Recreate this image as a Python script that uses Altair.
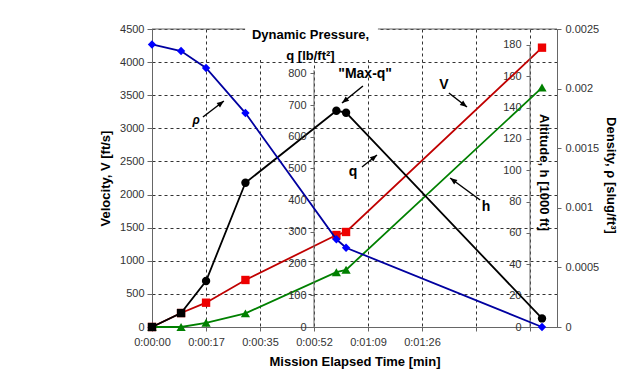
import math
import altair as alt
import pandas as pd

# ---------------- data ----------------
time_s = [0, 9.3, 17.3, 29.9, 59.0, 62.1, 124.8]          # mission elapsed time [s]
velocity = [0, 211, 367, 710, 1389, 1435, 4218]           # V [ft/s]
altitude = [0, 0, 2.7, 8.7, 35.0, 36.5, 152.8]            # h [1000 ft]
dyn_pressure = [0, 44, 145, 455, 682, 676, 27]            # q [lb/ft^2]
q_marker = ["square", "square", "circle", "circle", "circle", "circle", "circle"]
density = [0.00237, 0.002315, 0.002173, 0.001795, 0.000736, 0.000665, 0.0]  # rho

x_ticks = [0, 17.28, 34.56, 51.84, 69.12, 86.4, 103.68, 120.96]
x_labels = ["0:00:00", "0:00:17", "0:00:35", "0:00:52", "0:01:09", "0:01:26", "", ""]
v_ticks = [0, 500, 1000, 1500, 2000, 2500, 3000, 3500, 4000, 4500]
q_ticks = [0, 100, 200, 300, 400, 500, 600, 700, 800]
h_ticks = [0, 20, 40, 60, 80, 100, 120, 140, 160, 180]
rho_ticks = [0, 0.0005, 0.001, 0.0015, 0.002, 0.0025]

# annotations (in time / velocity units)
ann_text = ["ρ", '"Max-q"', "V", "q", "h"]
ann_t = [14.1, 68.2, 93.4, 64.3, 106.9]
ann_v = [3126, 3821, 3655, 2341, 1812]
arrow_t_from = [16.3, 67.5, 95.0, 67.2, 105.0]
arrow_v_from = [3171, 3639, 3534, 2416, 1918]
arrow_t_to = [23.0, 60.8, 100.8, 72.0, 95.4]
arrow_v_to = [3413, 3383, 3322, 2597, 2250]

# title box that interrupts the top border
box_t = [29.8]
box_t2 = [72.3]
box_v = [4032]
box_v2 = [4650]

# ---------------- layout constants ----------------
W, H = 405, 298
X_MAX = 129.6
V_MAX = 4500
Q_MAX = 940
H_MAX = 190.2
RHO_MAX = 0.0025
FONT = "Liberation Sans"
GRID_DASH = [3, 3]
AX_COL = "#666666"
LAB_COL = "#333333"

q_axis_t = x_ticks[3]
h_axis_t = x_ticks[7]

label_expr = "[" + ",".join("'%s'" % s for s in x_labels) + "][round(datum.value / %s)]" % x_ticks[1]

common_axis = dict(labelFont=FONT, titleFont=FONT, labelFontSize=11, titleFontSize=13,
                   titleFontWeight="bold", labelColor=LAB_COL, titleColor="#000000",
                   domainColor=AX_COL, tickColor=AX_COL, labelOverlap=False)


def xenc():
    return alt.X("t:Q", scale=alt.Scale(domain=[0, X_MAX], nice=False, zero=False),
                 axis=alt.Axis(values=x_ticks, labelExpr=label_expr,
                               title="Mission Elapsed Time [min]", grid=True,
                               gridDash=GRID_DASH, gridColor="#333333", gridOpacity=1,
                               tickSize=4, labelPadding=5, titlePadding=8,
                               labelFlush=False, **common_axis))


def yv():
    return alt.Y("V:Q", scale=alt.Scale(domain=[0, V_MAX], nice=False, zero=False),
                 axis=alt.Axis(values=v_ticks, orient="left", format="d",
                               title="Velocity, V [ft/s]",
                               grid=True, gridDash=GRID_DASH, gridColor="#333333",
                               gridOpacity=1, tickSize=5, labelPadding=3, titlePadding=7,
                               **common_axis))


def yq():
    return alt.Y("q:Q", scale=alt.Scale(domain=[0, Q_MAX], nice=False, zero=False),
                 axis=alt.Axis(values=q_ticks, orient="left", offset=-W * q_axis_t / X_MAX,
                               domain=False, grid=False, tickSize=4, labelPadding=4,
                               format="d",
                               title=["Dynamic Pressure,", "q [lb/ft²]"], titleAngle=0,
                               titleAlign="center", titleBaseline="middle",
                               titleX=-4, titleY=5, titleLineHeight=21, zindex=1,
                               **common_axis))


def yh():
    return alt.Y("h:Q", scale=alt.Scale(domain=[0, H_MAX], nice=False, zero=False),
                 axis=alt.Axis(values=h_ticks, orient="left", offset=-W * h_axis_t / X_MAX,
                               domain=False, grid=False, tickSize=4, labelPadding=5,
                               format="d",
                               title="Altitude, h [1000 ft]", titleAngle=90,
                               titleAlign="center", titleBaseline="middle",
                               titleX=13, titleY=143, **common_axis))


def yrho():
    return alt.Y("rho:Q", scale=alt.Scale(domain=[0, RHO_MAX], nice=False, zero=False),
                 axis=alt.Axis(values=rho_ticks, orient="right", format="~g",
                               grid=False, tickSize=4, labelPadding=4,
                               title="Density, ρ [slug/ft³]", titleAngle=90,
                               titleAlign="center", titleBaseline="middle",
                               titleX=53, titleY=146, **common_axis))


main = pd.DataFrame({"t": time_s, "V": velocity, "h": altitude, "q": dyn_pressure,
                     "rho": density, "marker": q_marker})

# arrow head angles (pixel space, clockwise from up)
angles = []
for tf, vf, tt, vt in zip(arrow_t_from, arrow_v_from, arrow_t_to, arrow_v_to):
    dx = (tt - tf) * W / X_MAX
    dy = -(vt - vf) * H / V_MAX
    angles.append((math.degrees(math.atan2(dx, -dy)) + 360) % 360)

arrows = pd.DataFrame({"t": arrow_t_from, "V": arrow_v_from, "t2": arrow_t_to,
                       "V2": arrow_v_to, "ang": angles})
heads = pd.DataFrame({"t": arrow_t_to, "V": arrow_v_to, "ang": angles})
labels = pd.DataFrame({"t": ann_t, "V": ann_v, "txt": ann_text})
border = pd.DataFrame({"t": [0], "t2": [X_MAX], "V": [V_MAX]})
box = pd.DataFrame({"t": box_t, "t2": box_t2, "V": box_v, "V2": box_v2})

# ---------------- velocity group ----------------
border_rule = alt.Chart(border).mark_rule(color=AX_COL, strokeWidth=1).encode(
    x=xenc(), x2=alt.X2("t2"), y=yv())
title_box = alt.Chart(box).mark_rect(color="white").encode(
    x=xenc(), x2=alt.X2("t2"), y=yv(), y2=alt.Y2("V2"))
v_line = alt.Chart(main).mark_line(color="#C00000", strokeWidth=1.8).encode(x=xenc(), y=yv())
v_pts = alt.Chart(main).mark_point(shape="square", filled=True, size=70, color="#EE0000",
                                   opacity=1).encode(x=xenc(), y=yv())
shafts = alt.Chart(arrows).mark_rule(color="black", strokeWidth=1.5).encode(
    x=xenc(), x2=alt.X2("t2"), y=yv(), y2=alt.Y2("V2"))
heads_m = alt.Chart(heads).mark_point(shape="M0,0L0.8,2L-0.8,2Z", filled=True, size=49,
                                      color="black", opacity=1).encode(
    x=xenc(), y=yv(), angle=alt.Angle("ang:Q", scale=None))
txt_rho = alt.Chart(labels.iloc[:1]).mark_text(font=FONT, fontSize=12, fontWeight="bold",
                                               fontStyle="italic", color="black").encode(
    x=xenc(), y=yv(), text="txt:N")
txt_other = alt.Chart(labels.iloc[1:]).mark_text(font=FONT, fontSize=14, fontWeight="bold",
                                                 color="black").encode(
    x=xenc(), y=yv(), text="txt:N")

v_group = alt.layer(border_rule, title_box, v_line, v_pts, shafts, heads_m, txt_rho, txt_other)

# ---------------- altitude group ----------------
h_rule_df = pd.DataFrame({"t": [h_axis_t], "h": [0], "h2": [h_ticks[-1]]})
h_rule = alt.Chart(h_rule_df).mark_rule(color=AX_COL, strokeWidth=1).encode(
    x=xenc(), y=yh(), y2=alt.Y2("h2"))
h_line = alt.Chart(main).mark_line(color="#008000", strokeWidth=1.8).encode(x=xenc(), y=yh())
h_pts = alt.Chart(main).mark_point(shape="triangle-up", filled=True, size=85, color="#008000",
                                   opacity=1).encode(x=xenc(), y=yh())
h_group = alt.layer(h_rule, h_line, h_pts)

# ---------------- dynamic pressure group ----------------
q_rule_df = pd.DataFrame({"t": [q_axis_t], "q": [0], "q2": [q_ticks[-1] + 10]})
q_rule = alt.Chart(q_rule_df).mark_rule(color=AX_COL, strokeWidth=1).encode(
    x=xenc(), y=yq(), y2=alt.Y2("q2"))
q_line = alt.Chart(main).mark_line(color="black", strokeWidth=1.8).encode(x=xenc(), y=yq())
q_pts = alt.Chart(main).mark_point(filled=True, size=70, color="black", opacity=1).encode(
    x=xenc(), y=yq(), shape=alt.Shape("marker:N", scale=None))
q_group = alt.layer(q_rule, q_line, q_pts)

# ---------------- density group ----------------
r_line = alt.Chart(main).mark_line(color="#0000A0", strokeWidth=1.8).encode(x=xenc(), y=yrho())
r_pts = alt.Chart(main).mark_point(shape="diamond", filled=True, size=70, color="#0000FF",
                                   opacity=1).encode(x=xenc(), y=yrho())
r_group = alt.layer(r_line, r_pts)

chart = alt.layer(v_group, h_group, q_group, r_group).resolve_scale(
    y="independent"
).properties(
    width=W, height=H,
    autosize=alt.AutoSizeParams(type="none"),
    padding={"left": 144, "top": 21, "right": 75, "bottom": 45},
    background="white",
).configure_view(stroke="transparent")

chart.save("out.html", embed_options={"renderer": "svg", "actions": False})
